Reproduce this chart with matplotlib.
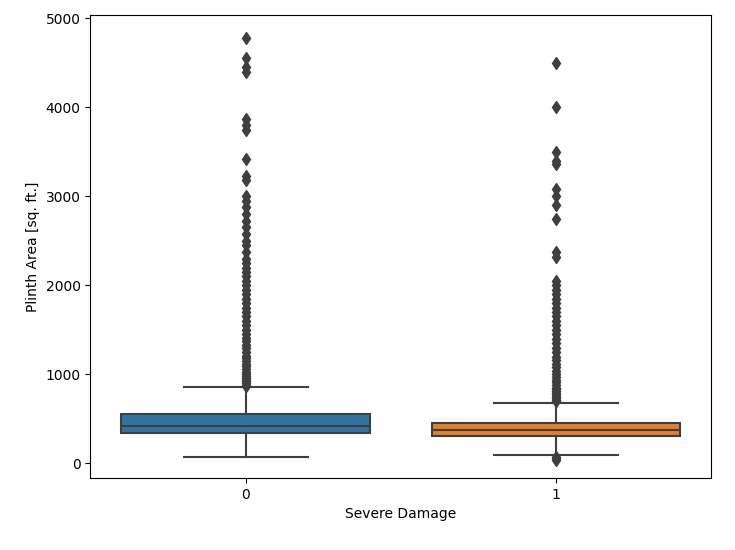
import matplotlib
matplotlib.use("Agg")
import matplotlib.pyplot as plt

categories = ["0", "1"]
colors = ["#3274a1", "#e1812c"]

q1 = [335, 305]
med = [420, 375]
q3 = [550, 450]
whislo = [75, 90]
whishi = [860, 680]

fliers_0 = [870, 880, 900, 920, 940, 960, 980, 1000, 1030, 1060, 1090, 1120, 1150,
            1180, 1210, 1250, 1290, 1330, 1370, 1410, 1450, 1500, 1550, 1600, 1650,
            1700, 1750, 1800, 1850, 1900, 1950, 2000, 2050, 2100, 2150, 2200, 2250,
            2300, 2380, 2450, 2500, 2580, 2650, 2720, 2800, 2880, 2950, 3000,
            3180, 3230, 3420, 3750, 3800, 3870, 4400, 4450, 4550, 4780]
fliers_1 = [40, 55, 75, 700, 710, 730, 750, 770, 790, 810, 830, 850, 880, 910,
            940, 970, 1000, 1040, 1080, 1120, 1160, 1200, 1250, 1300, 1350, 1400,
            1450, 1500, 1550, 1600, 1650, 1700, 1750, 1800, 1850, 1900, 1950, 2000,
            2050, 2320, 2370, 2750, 2900, 3000, 3080, 3360, 3400, 3500, 4000, 4500]
fliers = [fliers_0, fliers_1]

stats = []
for i in range(2):
    stats.append({"med": med[i], "q1": q1[i], "q3": q3[i],
                  "whislo": whislo[i], "whishi": whishi[i], "fliers": fliers[i]})

fig = plt.figure(figsize=(7.35, 5.5), dpi=100)
ax = fig.add_axes([0.123, 0.131, 0.845, 0.842])
grey = "#3f3f3f"
bp = ax.bxp(stats, positions=[0, 1], widths=0.8, patch_artist=True,
            boxprops=dict(edgecolor=grey, linewidth=1.5),
            medianprops=dict(color=grey, linewidth=1.5),
            whiskerprops=dict(color=grey, linewidth=1.5),
            capprops=dict(color=grey, linewidth=1.5),
            flierprops=dict(marker="d", markerfacecolor=grey, markeredgecolor=grey,
                            markersize=6))
for patch, c in zip(bp["boxes"], colors):
    patch.set_facecolor(c)
for cap in bp["caps"]:
    x = cap.get_xdata()
    mid = (x[0] + x[1]) / 2
    cap.set_xdata([mid - 0.2, mid + 0.2])

ax.set_xlim(-0.5, 1.5)
ax.set_ylim(-165, 5040)
ax.set_xticks([0, 1])
ax.set_xticklabels(categories)
ax.set_xlabel("Severe Damage")
ax.set_ylabel("Plinth Area [sq. ft.]")
fig.savefig("out.png", dpi=100)
